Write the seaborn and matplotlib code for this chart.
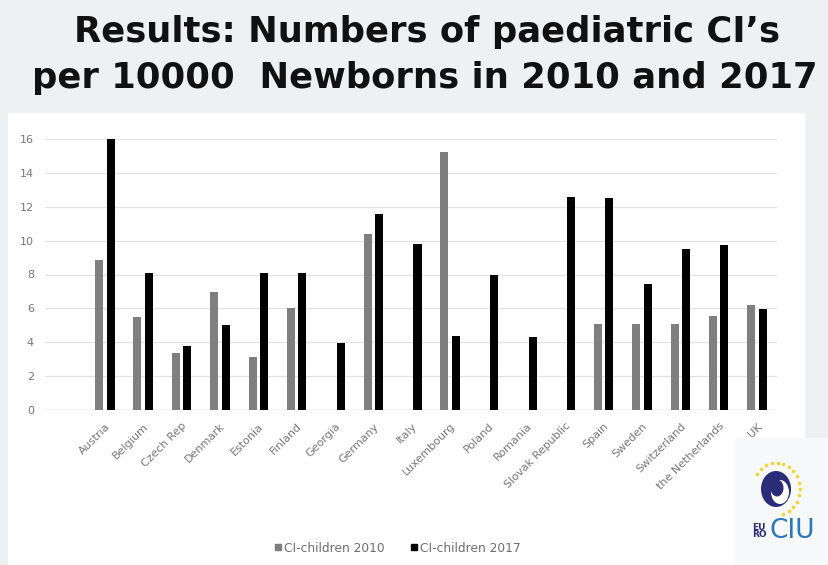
import numpy as np
import pandas as pd
import seaborn as sns
import matplotlib.pyplot as plt
from matplotlib.patches import Rectangle, Ellipse
from matplotlib.lines import Line2D

# ================= Data ================= #
countries = ['Austria', 'Belgium', 'Czech Rep', 'Denmark', 'Estonia', 'Finland',
             'Georgia', 'Germany', 'Italy', 'Luxembourg', 'Poland', 'Romania',
             'Slovak Republic', 'Spain', 'Sweden', 'Switzerland',
             'the Netherlands', 'UK']
ci_2010 = [8.85, 5.5, 3.35, 6.95, 3.15, 6.0,
           np.nan, 10.4, np.nan, 15.25, np.nan, np.nan,
           np.nan, 5.1, 5.05, 5.05, 5.55, 6.2]
ci_2017 = [16.0, 8.1, 3.8, 5.0, 8.1, 8.1,
           3.95, 11.55, 9.8, 4.35, 8.0, 4.3,
           12.6, 12.5, 7.45, 9.5, 9.75, 5.95]
series = ['CI-children 2010', 'CI-children 2017']
yticks = [0, 2, 4, 6, 8, 10, 12, 14, 16]

df = pd.DataFrame({'country': countries * 2,
                   'value': ci_2010 + ci_2017,
                   'series': [series[0]] * len(countries) + [series[1]] * len(countries)})

# ================= Figure ================= #
W, H = 829, 565
fig = plt.figure(figsize=(W / 100, H / 100), dpi=100, facecolor='#eef0f2')
# white chart box
fig.patches.append(Rectangle((8 / W, 0), (805 - 8) / W, (H - 113) / H,
                             transform=fig.transFigure, facecolor='white',
                             edgecolor='none', zorder=-1))

ax = fig.add_axes([45 / W, (H - 410) / H, (777 - 45) / W, (410 - 139) / H])
ax.set_zorder(5)
ax.set_facecolor('none')
colors = {series[0]: '#7f7f7f', series[1]: '#000000'}
sns.barplot(data=df, x='country', y='value', hue='series', hue_order=series,
            order=countries, palette=colors, width=0.6, gap=0.3,
            errorbar=None, legend=False, ax=ax, zorder=3)

ax.set_xlim(-1.56, 17.52)
ax.set_ylim(0, 16)
ax.set_yticks(yticks)
ax.set_yticklabels([str(t) for t in yticks])
ax.set_xlabel('')
ax.set_ylabel('')
for s in ax.spines.values():
    s.set_visible(False)
ax.grid(axis='y', color='#e3e3e3', linewidth=0.9, zorder=0)
ax.axhline(0, color='#d0d0d0', linewidth=1.0, zorder=2)
ax.tick_params(axis='both', length=0, colors='#777777', labelsize=8)
ax.tick_params(axis='y', pad=8)
ax.tick_params(axis='x', pad=8)
plt.setp(ax.get_xticklabels(), rotation=45, ha='right', rotation_mode='anchor')

# ================= Title ================= #
fig.text(427 / W, 1 - 32 / H, "Results: Numbers of paediatric CI\u2019s",
         ha='center', va='center', fontsize=25.5, fontweight='bold', color='#111111')
fig.text(425 / W, 1 - 78 / H, "per 10000  Newborns in 2010 and 2017",
         ha='center', va='center', fontsize=25.5, fontweight='bold', color='#111111')

# ================= Legend ================= #
handles = [Line2D([], [], marker='s', linestyle='none', markersize=5,
                  color=colors[s]) for s in series]
leg = fig.legend(handles, series, loc='center', bbox_to_anchor=(397 / W, 1 - 548 / H),
                 ncol=2, frameon=False, fontsize=8.8, handletextpad=0.1,
                 columnspacing=2.0, handlelength=0.8)
for t in leg.get_texts():
    t.set_color('#6e6e6e')

# ================= Logo (EuroCIU) ================= #
fig.patches.append(Rectangle((735 / W, 0), (829 - 735) / W, (H - 438) / H,
                             transform=fig.transFigure, facecolor='#f7f8f9',
                             edgecolor='none', zorder=1))
lx, ly = 776 / W, 1 - 489 / H
fig.patches.append(Ellipse((lx, ly), 30 / W, 36 / H, transform=fig.transFigure,
                           facecolor='#2a2c7a', edgecolor='none', zorder=2))
fig.patches.append(Ellipse((lx + 4 / W, ly - 3 / H), 18 / W, 24 / H, transform=fig.transFigure,
                           facecolor='white', edgecolor='none', zorder=3))
fig.patches.append(Ellipse((lx + 1 / W, ly + 1 / H), 13 / W, 17 / H, transform=fig.transFigure,
                           facecolor='#2a2c7a', edgecolor='none', zorder=4))
ang = np.linspace(np.pi * 0.8, -np.pi * 0.4, 16)
fig.lines.append(Line2D(lx + 24 / W * np.cos(ang), ly + 26 / H * np.sin(ang),
                        transform=fig.transFigure, linestyle='none', marker='o',
                        markersize=1.6, color='#f2d33b', zorder=2))
fig.text(752 / W, 1 - 531 / H, "EU\nRO", fontsize=6.5, color='#2a2c7a', fontweight='bold',
         ha='left', va='center', linespacing=0.8)
fig.text(770 / W, 1 - 531 / H, "CIU", fontsize=19, color='#2a77c0',
         ha='left', va='center')

fig.savefig('out.png', dpi=100, facecolor=fig.get_facecolor())
